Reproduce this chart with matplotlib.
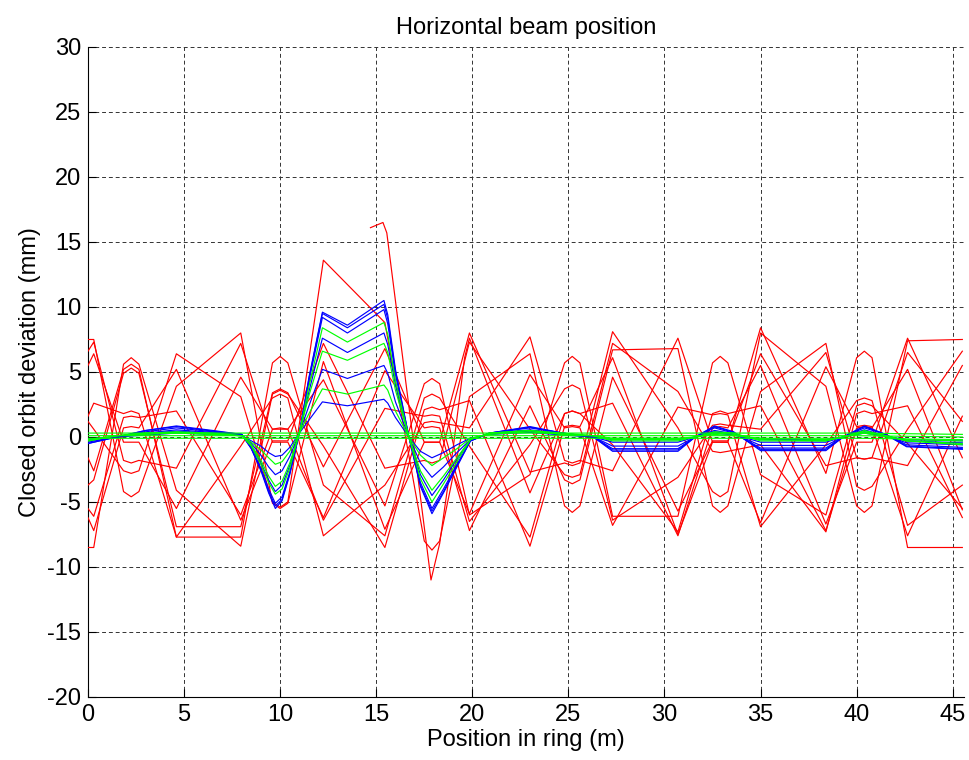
import matplotlib
matplotlib.use("Agg")
import matplotlib.pyplot as plt
from matplotlib import font_manager

# ---------------------------------------------------------------------------
# Orbit data: position along the ring (m) and horizontal deviation (mm)
# ---------------------------------------------------------------------------

# Shared knots for the single-corrector response orbits (red):
# straight-section ends and the rounded extremum inside each arc
x_red = [0.0, 0.3, 1.85, 2.25, 2.65, 4.6,
         7.95, 9.6, 10.0, 10.4, 12.25,
         15.45, 17.5, 17.9, 18.3, 19.85,
         23.0, 24.8, 25.2, 25.6, 27.3,
         30.7, 32.5, 32.9, 33.3, 35.0,
         38.4, 40.0, 40.4, 40.8, 42.65,
         45.5]

red_1 = [7.5, 7.5, -4.2, -4.6, -4.2, 3.9,
         8.0, -5.1, -5.5, -5.1, 5.8,
         -7.1, -0.4, -0.4, -0.4, 8.0,
         -2.7, -2.0, -2.2, -2.0, 8.1,
         0.7, -4.2, -4.6, -4.2, 8.0,
         3.9, -5.3, -5.8, -5.3, 7.4,
         7.5]
red_2 = [1.2, 0.6, -2.6, -2.8, -2.6, 6.4,
         3.1, -5.0, -5.4, -5.0, 13.6,
         8.8, -8.0, -8.7, -8.0, 3.1,
         6.4, -5.3, -5.8, -5.3, 4.6,
         -5.7, -0.3, -0.3, -0.3, 6.4,
         -2.2, -1.6, -1.7, -1.6, 6.5,
         1.2]
red_3 = [-1.6, -2.6, 5.2, 5.6, 5.2, -7.7,
         -7.7, 5.7, 6.2, 5.7, -3.7,
         -7.6, 3.0, 3.3, 3.0, -0.7,
         -7.7, 1.8, 2.0, 1.8, 2.6,
         -7.6, 0.7, 0.8, 0.7, 5.5,
         -6.7, -0.4, -0.4, -0.4, 7.6,
         -1.6]
red_4 = [-6.2, -7.2, 0.7, 0.8, 0.7, 5.2,
         -6.4, -0.3, -0.3, -0.3, 7.2,
         -2.4, -1.8, -2.0, -1.8, 7.3,
         0.6, -2.9, -3.1, -2.9, 7.2,
         3.5, -1.1, -1.2, -1.1, -0.6,
         -7.3, 1.8, 2.0, 1.8, 2.4,
         -6.2]
red_5 = [-5.5, -6.1, 1.5, 1.6, 1.5, 2.0,
         -6.0, 0.6, 0.6, 0.6, 4.4,
         -5.3, 4.1, 4.5, 4.1, -6.0,
         -2.9, 5.7, 6.2, 5.7, -6.1,
         -6.1, 5.7, 6.2, 5.7, -2.9,
         -6.0, 2.4, 2.6, 2.4, -0.5,
         -5.5]
red_6 = [-8.5, -8.5, 5.6, 6.1, 5.6, -4.1,
         -8.4, 3.3, 3.6, 3.3, -0.7,
         -8.5, 2.1, 2.3, 2.1, 2.8,
         -8.4, 0.8, 0.9, 0.8, 6.1,
         -7.5, -0.4, -0.4, -0.4, 8.4,
         -2.8, 6.1, 6.6, 6.1, -8.5,
         -8.5]
red_7 = [-3.7, -3.3, 4.9, 5.3, 4.9, -6.9,
         -6.9, 3.4, 3.7, 3.4, -2.3,
         6.8, -0.4, -0.4, -0.4, -5.9,
         4.8, 0.7, 0.8, 0.7, -6.8,
         2.3, 1.7, 1.8, 1.7, -6.9,
         -0.6, 2.8, 3.0, 2.8, -6.8,
         -3.7]
red_8 = [1.6, 2.6, 1.8, 2.0, 1.8, -7.7,
         -0.7, 3.0, 3.3, 3.0, -7.6,
         -3.7, 1.1, 1.2, 1.1, 0.7,
         7.7, -1.8, -2.0, -1.8, -2.6,
         7.6, -0.4, -0.4, -0.4, -6.6,
         5.4, 0.8, 0.9, 0.8, -7.6,
         1.6]
red_9 = [5.5, 6.4, -0.4, -0.4, -0.4, -5.5,
         4.6, 0.6, 0.7, 0.6, -6.4,
         2.2, 1.6, 1.7, 1.6, -6.5,
         -0.6, 3.7, 4.0, 3.7, -6.4,
         -3.1, 0.9, 1.0, 0.9, 0.6,
         6.5, -1.6, -1.7, -1.6, -2.2,
         5.5]
red_10 = [6.6, 7.3, -1.8, -2.0, -1.8, -2.4,
          7.2, -0.4, -0.4, -0.4, -6.2,
          5.1, 0.7, 0.8, 0.7, -7.2,
          2.4, -3.3, -3.6, -3.3, 6.7,
          6.8, -5.3, -5.8, -5.3, 3.5,
          7.2, -3.8, -4.1, -3.8, 0.6,
          6.6]

# Orbit that is only recorded from 14.7 m onward
x_red_11 = [14.7, 15.35, 15.55, 17.85, 18.3, 19.0, 19.6, 19.85,
            23.0, 24.8, 25.2, 25.6, 27.3,
            30.7, 32.5, 32.9, 33.3, 35.0,
            38.4, 40.0, 40.4, 40.8, 42.65,
            45.5]
red_11 = [16.1, 16.5, 15.7, -11.0, -8.2, -0.9, 6.1, 7.6,
          -4.3, 1.8, 2.0, 1.8, -0.6,
          -7.3, 1.8, 2.0, 1.8, 2.4,
          -7.2, 0.7, 0.8, 0.7, 5.2,
          -5.6]

red_orbits = [(x_red, red_1), (x_red, red_2), (x_red, red_3), (x_red, red_4),
              (x_red, red_5), (x_red, red_6), (x_red, red_7), (x_red, red_8),
              (x_red, red_9), (x_red, red_10), (x_red_11, red_11)]

# Shared knots for the bump orbits (blue and green)
x_bump = [0.0, 1.5, 3.0, 4.6, 6.5, 8.0, 8.5, 9.0, 9.4, 9.75,
          10.1, 10.5, 11.0, 11.5, 12.2, 13.5, 15.4, 15.6, 16.0, 16.7,
          17.3, 17.9, 18.5, 19.2, 19.9, 20.9, 23.0, 24.7, 26.3, 27.3,
          30.7, 31.6, 32.6, 33.6, 35.0, 38.4, 39.3, 40.4, 41.5, 42.6,
          45.5]

blue_1 = [-0.5, 0.0, 0.5, 0.85, 0.5, 0.2, -0.9, -2.6, -4.3, -5.5,
          -4.9, -2.9, 0.3, 4.6, 9.6, 8.6, 10.5, 9.4, 5.2, 0.0,
          -3.8, -5.9, -4.3, -2.3, -0.3, 0.3, 0.8, 0.3, 0.0, -1.1,
          -1.1, 0.0, 0.85, 0.4, -1.05, -1.05, 0.0, 0.85, 0.2, -0.75,
          -0.95]
blue_2 = [-0.5, 0.0, 0.5, 0.8, 0.45, 0.2, -0.9, -2.5, -4.2, -5.3,
          -4.8, -2.8, 0.3, 4.5, 9.5, 8.4, 10.2, 9.1, 5.0, 0.0,
          -3.7, -5.7, -4.2, -2.2, -0.3, 0.3, 0.75, 0.3, 0.0, -1.0,
          -1.0, 0.0, 0.8, 0.35, -0.95, -0.95, 0.0, 0.8, 0.2, -0.7,
          -0.9]
blue_3 = [-0.4, 0.0, 0.4, 0.7, 0.4, 0.2, -0.8, -2.4, -4.0, -5.1,
          -4.6, -2.7, 0.3, 4.3, 9.2, 8.0, 9.8, 8.7, 4.8, 0.0,
          -3.5, -5.5, -4.0, -2.1, -0.3, 0.3, 0.7, 0.3, 0.0, -0.9,
          -0.9, 0.0, 0.7, 0.3, -0.85, -0.85, 0.0, 0.7, 0.2, -0.6,
          -0.8]
blue_4 = [-0.3, 0.0, 0.3, 0.55, 0.35, 0.2, -0.7, -2.0, -3.3, -4.2,
          -3.7, -2.2, 0.3, 3.5, 7.6, 6.5, 8.0, 7.1, 4.0, 0.0,
          -2.9, -4.5, -3.3, -1.7, -0.2, 0.3, 0.55, 0.25, 0.0, -0.7,
          -0.7, 0.0, 0.5, 0.25, -0.65, -0.65, 0.0, 0.55, 0.1, -0.45,
          -0.6]
blue_5 = [-0.2, 0.0, 0.25, 0.45, 0.3, 0.15, -0.5, -1.4, -2.3, -2.9,
          -2.6, -1.5, 0.3, 2.4, 5.2, 4.5, 5.5, 4.9, 2.7, 0.0,
          -2.0, -3.1, -2.3, -1.2, -0.2, 0.25, 0.45, 0.2, 0.0, -0.4,
          -0.4, 0.0, 0.4, 0.2, -0.4, -0.4, 0.0, 0.4, 0.1, -0.3,
          -0.45]
blue_6 = [-0.15, 0.0, 0.15, 0.3, 0.2, 0.1, -0.3, -0.7, -1.2, -1.5,
          -1.4, -0.8, 0.3, 1.3, 2.7, 2.4, 2.9, 2.6, 1.5, 0.0,
          -1.1, -1.6, -1.2, -0.6, -0.1, 0.2, 0.35, 0.15, 0.0, -0.2,
          -0.2, 0.0, 0.3, 0.15, -0.2, -0.2, 0.0, 0.3, 0.05, -0.2,
          -0.3]

green_1 = [-0.3, 0.1, 0.3, 0.4, 0.3, 0.1, -0.7, -2.1, -3.5, -4.4,
           -4.0, -2.4, 0.3, 3.9, 8.4, 7.3, 8.8, 7.9, 4.3, 0.0,
           -3.2, -5.0, -3.6, -1.9, -0.2, 0.3, 0.5, 0.3, 0.1, -0.3,
           -0.3, 0.0, 0.4, 0.3, -0.3, -0.3, 0.0, 0.5, 0.1, -0.3,
           -0.6]
green_2 = [-0.3, 0.1, 0.3, 0.35, 0.2, 0.1, -0.6, -1.8, -3.0, -3.8,
           -3.4, -2.0, 0.3, 3.2, 6.6, 5.9, 7.2, 6.5, 3.6, 0.0,
           -2.6, -4.1, -3.0, -1.6, -0.2, 0.3, 0.5, 0.2, 0.1, -0.2,
           -0.2, 0.0, 0.3, 0.2, -0.2, -0.3, 0.0, 0.4, 0.1, -0.3,
           -0.5]
green_3 = [-0.2, 0.1, 0.2, 0.3, 0.2, 0.1, -0.4, -1.0, -1.6, -2.1,
           -1.9, -1.1, 0.3, 1.8, 3.7, 3.3, 4.0, 3.6, 2.0, 0.0,
           -1.4, -2.2, -1.6, -0.9, -0.1, 0.2, 0.4, 0.2, 0.1, -0.1,
           -0.1, 0.0, 0.2, 0.1, -0.1, -0.2, 0.0, 0.3, 0.0, -0.2,
           -0.3]

# Nearly flat orbits (green) after full correction
x_flat = [0.0, 10.0, 20.0, 30.0, 40.0, 45.5]
green_flat_1 = [0.3, 0.3, 0.3, 0.3, 0.3, 0.2]
green_flat_2 = [0.1, 0.1, 0.1, 0.1, 0.1, 0.0]
green_flat_3 = [-0.1, -0.1, -0.1, -0.1, -0.1, -0.2]

blue_orbits = [blue_1, blue_2, blue_3, blue_4, blue_5, blue_6]
green_orbits = [green_1, green_2, green_3]
green_flat = [green_flat_1, green_flat_2, green_flat_3]

x_ticks = [0, 5, 10, 15, 20, 25, 30, 35, 40, 45]
y_ticks = [-20, -15, -10, -5, 0, 5, 10, 15, 20, 25, 30]

# ---------------------------------------------------------------------------
# Figure
# ---------------------------------------------------------------------------
installed = {f.name for f in font_manager.fontManager.ttflist}
family = [f for f in ["Liberation Sans Narrow", "Liberation Sans", "DejaVu Sans"]
          if f in installed] or ["DejaVu Sans"]
plt.rcParams["font.family"] = family
plt.rcParams["axes.unicode_minus"] = False

fig = plt.figure(figsize=(9.69, 7.60), dpi=100)
ax = fig.add_axes([0.0908, 0.0829, 0.9043, 0.8553])

for xs, ys in red_orbits:
    ax.plot(xs, ys, color=(1, 0, 0), lw=0.85, zorder=3)
for ys in blue_orbits:
    ax.plot(x_bump, ys, color=(0, 0, 1), lw=0.85, zorder=4)
for ys in green_orbits:
    ax.plot(x_bump, ys, color=(0, 1, 0), lw=0.85, zorder=5)
for ys in green_flat:
    ax.plot(x_flat, ys, color=(0, 1, 0), lw=0.85, zorder=5)

ax.set_xlim(0, 45.6)
ax.set_ylim(-20, 30)
ax.set_xticks(x_ticks)
ax.set_yticks(y_ticks)

ax.grid(True, color="#333333", linestyle=(0, (4.0, 3.0)), linewidth=0.7)
ax.set_axisbelow(True)

for side in ("top", "right"):
    ax.spines[side].set_visible(False)
for side in ("left", "bottom"):
    ax.spines[side].set_linewidth(0.8)

ax.tick_params(direction="in", length=6, width=0.8, labelsize=17, pad=5)

ax.set_title("Horizontal beam position", fontsize=17, pad=9)
ax.set_xlabel("Position in ring (m)", fontsize=17, labelpad=2)
ax.set_ylabel("Closed orbit deviation (mm)", fontsize=17, labelpad=4)

fig.savefig("out.png", dpi=100, facecolor="white")
